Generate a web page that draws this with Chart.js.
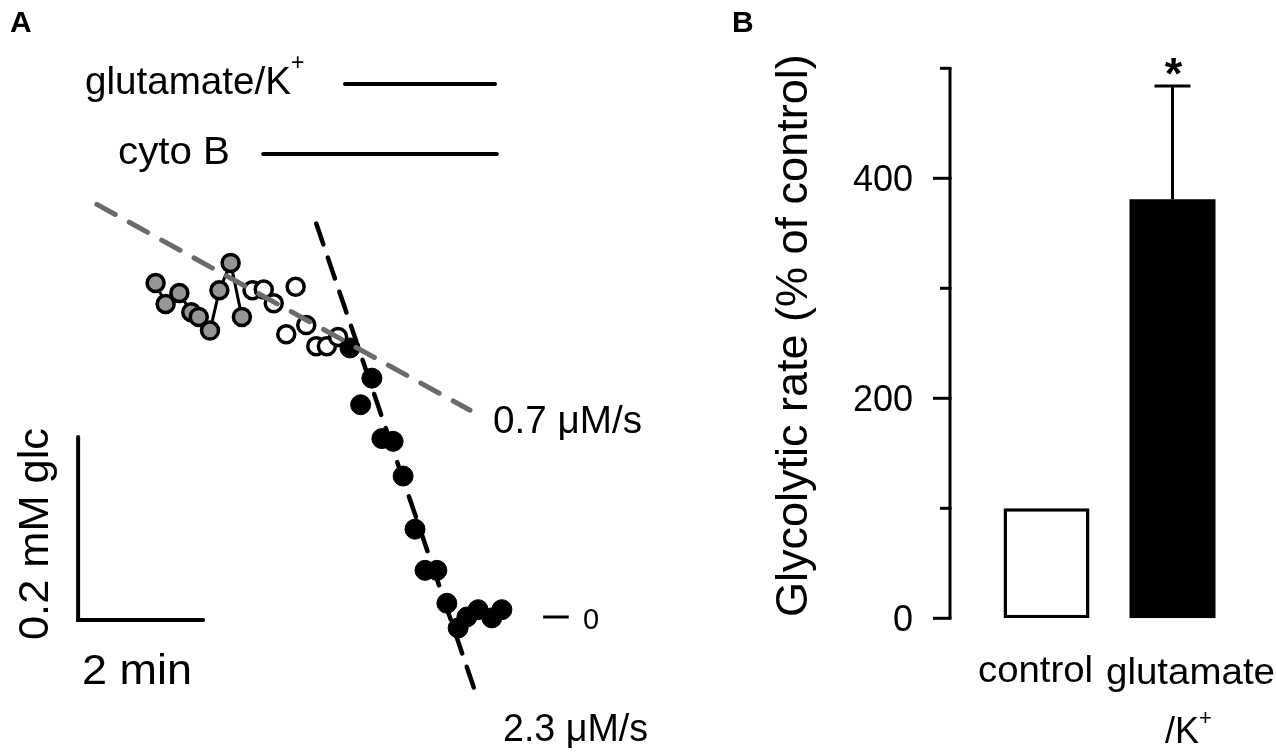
<!DOCTYPE html>
<html>
<head>
<meta charset="utf-8">
<script src="https://cdn.jsdelivr.net/npm/chart.js@4.4.1/dist/chart.umd.min.js"></script>
<style>
  html, body { margin: 0; padding: 0; background: #fff; }
  #wrap { position: relative; width: 1276px; height: 752px; overflow: hidden; }
  #chartA { position: absolute; left: 0; top: 0; }
  #chartB { position: absolute; left: 660px; top: 0; }
</style>
</head>
<body>
<div id="wrap">
  <canvas id="chartA" width="660" height="752"></canvas>
  <canvas id="chartB" width="616" height="752"></canvas>
</div>
<script>
// ---- panel A data (time in min, glucose in mM above the zero level) ----
const grayT = [2.49, 2.65, 2.87, 3.06, 3.18, 3.36, 3.51, 3.69, 3.87];
const grayGlc = [0.365, 0.342, 0.354, 0.333, 0.328, 0.313, 0.357, 0.387, 0.328];
const openT = [4.04, 4.22, 4.38, 4.58, 4.73, 4.90, 5.06, 5.23, 5.41];
const openGlc = [0.357, 0.358, 0.343, 0.309, 0.361, 0.319, 0.296, 0.296, 0.306];
const blackT = [5.60, 5.77, 5.95, 6.11, 6.29, 6.45, 6.64, 6.80, 6.99, 7.15, 7.33, 7.47, 7.65, 7.87, 8.03];
const blackGlc = [0.294, 0.232, 0.261, 0.195, 0.192, 0.154, 0.096, 0.051, 0.051, 0.015, -0.012, 0.000, 0.008, -0.001, 0.008];

// fitted slopes
const slowFitT = [1.55, 7.52];
const slowFitGlc = [0.451, 0.226];
const fastFitT = [5.06, 7.65];
const fastFitGlc = [0.430, -0.091];

// application periods (min)
const glutamateOn = [5.52, 7.92];
const cytoBOn = [4.21, 7.95];

// scale bars
const scaleBarMin = 2;
const scaleBarGlc = 0.2;

// ---- panel B data ----
const groups = ["control", "glutamate/K+"];
const rates = [100, 381];
const rateErr = [0, 103];
const yTickValues = [0, 100, 200, 300, 400, 500];
const yTickLabels = ["0", "", "200", "", "400", ""];

const FONT = '"Liberation Sans", Arial, Helvetica, sans-serif';

// draws text with its left edge at x; if w is given, the text is stretched to that width
function txt(ctx, s, x, y, size, opts) {
  opts = opts || {};
  ctx.save();
  ctx.font = (opts.bold ? "bold " : "") + size + "px " + FONT;
  ctx.fillStyle = "#000";
  ctx.textBaseline = "alphabetic";
  ctx.textAlign = "left";
  const natural = ctx.measureText(s).width;
  const sx = opts.w ? opts.w / natural : 1;
  const width = natural * sx;
  ctx.translate(x, y);
  if (opts.rot) ctx.rotate(opts.rot);
  let dx = 0;
  if (opts.align === "right") dx = -width;
  if (opts.align === "center") dx = -width / 2;
  ctx.translate(dx, 0);
  ctx.scale(sx, 1);
  ctx.fillText(s, 0, 0);
  ctx.restore();
  return width;
}

const pts = (xs, ys) => xs.map((x, i) => ({ x: x, y: ys[i] }));

const zeroLevel = -0.0033; // baseline of the scale bars
const glutLevel = 0.5825;
const cytoLevel = 0.506;

const labelsA = {
  id: "labelsA",
  afterDraw(chart) {
    const ctx = chart.ctx;
    txt(ctx, "A", 10, 32, 30, { bold: true });
    const w = txt(ctx, "glutamate/K", 85, 94, 39, { w: 206 });
    txt(ctx, "+", 85 + w, 70, 23);
    txt(ctx, "cyto B", 230, 164, 39, { align: "right", w: 112 });
    txt(ctx, "0.7 \u03bcM/s", 493, 433, 38, { w: 149 });
    txt(ctx, "2.3 \u03bcM/s", 503, 741, 38, { w: 145 });
    txt(ctx, "0", 583, 629, 29);
    txt(ctx, "2 min", 82, 684, 43, { w: 110 });
    txt(ctx, "0.2 mM glc", 48, 640, 43, { rot: -Math.PI / 2, w: 212 });
  }
};

new Chart(document.getElementById("chartA"), {
  type: "scatter",
  data: {
    datasets: [
      {
        data: pts(slowFitT, slowFitGlc),
        showLine: true, borderColor: "#6b6b6b", borderWidth: 5,
        borderDash: [21, 16], borderCapStyle: "round",
        pointRadius: 0, order: 0
      },
      {
        data: pts(fastFitT, fastFitGlc),
        showLine: true, borderColor: "#000", borderWidth: 4.5,
        borderDash: [22, 14], borderCapStyle: "round",
        pointRadius: 0, order: 0
      },
      {
        data: pts(blackT, blackGlc),
        showLine: false, pointRadius: 10, pointBorderWidth: 1,
        pointBackgroundColor: "#000", pointBorderColor: "#000", order: 1
      },
      {
        data: pts(openT, openGlc),
        showLine: false, pointRadius: 8.5, pointBorderWidth: 3.5,
        pointBackgroundColor: "#fff", pointBorderColor: "#000", order: 2
      },
      {
        data: pts(grayT, grayGlc),
        showLine: true, borderColor: "#000", borderWidth: 3,
        pointRadius: 8.5, pointBorderWidth: 3.5,
        pointBackgroundColor: "#959595", pointBorderColor: "#000", order: 3
      },
      {
        data: [{ x: glutamateOn[0], y: glutLevel }, { x: glutamateOn[1], y: glutLevel }],
        showLine: true, borderColor: "#000", borderWidth: 4, borderCapStyle: "round",
        pointRadius: 0, order: 4
      },
      {
        data: [{ x: cytoBOn[0], y: cytoLevel }, { x: cytoBOn[1], y: cytoLevel }],
        showLine: true, borderColor: "#000", borderWidth: 4, borderCapStyle: "round",
        pointRadius: 0, order: 4
      },
      {
        // scale bars: 0.2 mM vertical, 2 min horizontal
        data: [
          { x: 1.25, y: zeroLevel + scaleBarGlc },
          { x: 1.25, y: zeroLevel },
          { x: 1.25 + scaleBarMin, y: zeroLevel }
        ],
        showLine: true, borderColor: "#000", borderWidth: 4, borderCapStyle: "round",
        borderJoinStyle: "miter", pointRadius: 0, order: 4
      },
      {
        // zero marker
        data: [{ x: 8.69, y: 0 }, { x: 9.10, y: 0 }],
        showLine: true, borderColor: "#000", borderWidth: 3,
        pointRadius: 0, order: 4
      }
    ]
  },
  options: {
    responsive: false,
    animation: false,
    layout: { padding: 0, autoPadding: false },
    scales: {
      x: { type: "linear", display: false, min: 0, max: 660 / 62.5 },
      y: { type: "linear", display: false, min: (617 - 752) / 915, max: 617 / 915 }
    },
    plugins: { legend: { display: false }, tooltip: { enabled: false } }
  },
  plugins: [labelsA]
});

// ---- panel B ----
const axisB = {
  id: "axisB",
  afterDraw(chart) {
    const ctx = chart.ctx;
    const y = chart.scales.y;
    const ax = chart.chartArea.left - 33.5;
    ctx.save();
    ctx.strokeStyle = "#000";
    ctx.lineWidth = 3;
    ctx.beginPath();
    ctx.moveTo(ax, y.getPixelForValue(500));
    ctx.lineTo(ax, y.getPixelForValue(0));
    ctx.stroke();
    yTickValues.forEach((v, i) => {
      const py = y.getPixelForValue(v);
      const len = yTickLabels[i] ? 17 : 10;
      ctx.beginPath();
      ctx.moveTo(ax - len, py);
      ctx.lineTo(ax + 1.5, py);
      ctx.stroke();
      if (yTickLabels[i]) {
        txt(ctx, yTickLabels[i], ax - 37, py + 12.5, 36, { align: "right" });
      }
    });

    // error bar + significance mark
    const meta = chart.getDatasetMeta(0);
    meta.data.forEach((bar, i) => {
      if (!rateErr[i]) return;
      const top = y.getPixelForValue(rates[i] + rateErr[i]);
      ctx.lineWidth = 3;
      ctx.beginPath();
      ctx.moveTo(bar.x, bar.y);
      ctx.lineTo(bar.x, top);
      ctx.moveTo(bar.x - 18, top);
      ctx.lineTo(bar.x + 18, top);
      ctx.stroke();
      txt(ctx, "*", bar.x + 1, top + 3, 45, { bold: true, align: "center" });
    });
    ctx.restore();

    const off = -660;
    txt(ctx, "B", 732 + off, 32, 30, { bold: true });
    txt(ctx, "Glycolytic rate (% of control)", 807 + off, 617, 45, { rot: -Math.PI / 2 });
    txt(ctx, "control", 978 + off, 682, 36, { w: 115 });
    txt(ctx, "glutamate", 1106 + off, 684, 36, { w: 169 });
    const w = txt(ctx, "/K", 1165 + off, 743, 36);
    txt(ctx, "+", 1165 + off + w, 725, 22);
  }
};

new Chart(document.getElementById("chartB"), {
  type: "bar",
  data: {
    labels: groups,
    datasets: [{
      data: rates,
      backgroundColor: ["#fff", "#000"],
      borderColor: "#000",
      borderWidth: [3.5, 0],
      borderSkipped: false,
      barPercentage: 0.6825,
      categoryPercentage: 1
    }]
  },
  options: {
    responsive: false,
    animation: false,
    layout: { padding: { left: 323.5, right: 40.5, top: 68.3, bottom: 133.7 }, autoPadding: false },
    scales: {
      x: { display: false },
      y: { display: false, min: 0, max: 500 }
    },
    plugins: { legend: { display: false }, tooltip: { enabled: false } }
  },
  plugins: [axisB]
});
</script>
</body>
</html>
